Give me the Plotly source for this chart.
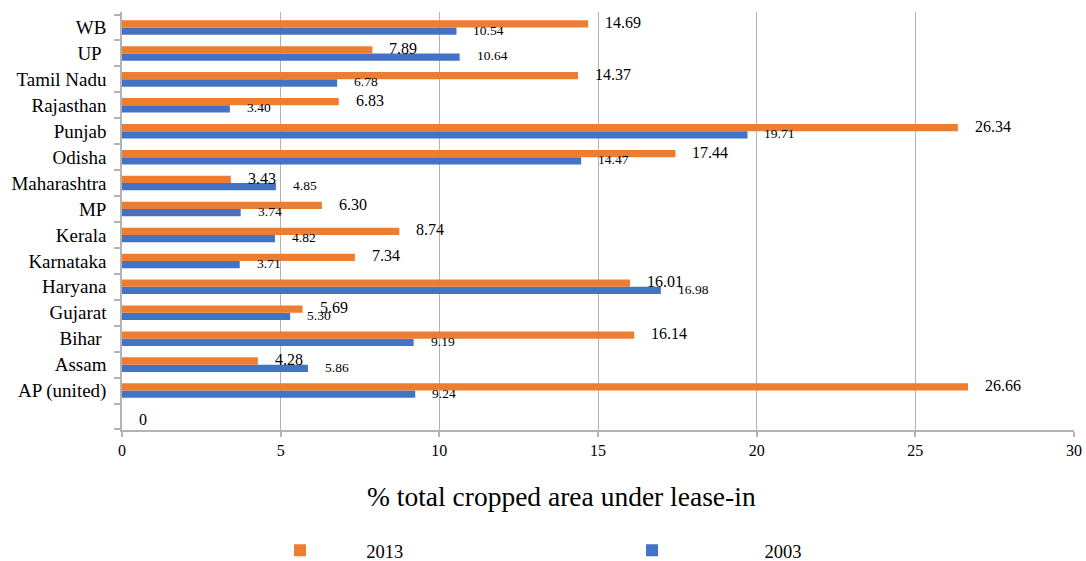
import plotly.graph_objects as go

# States, bottom row first (the first row is a blank spacer row)
states = [" ", "AP (united)", "Assam", "Bihar\u00a0", "Gujarat", "Haryana", "Karnataka",
          "Kerala", "MP", "Maharashtra", "Odisha", "Punjab", "Rajasthan",
          "Tamil Nadu", "UP\u00a0", "WB"]

# % of total cropped area under lease-in
share_2013 = [0, 26.66, 4.28, 16.14, 5.69, 16.01, 7.34, 8.74, 6.30, 3.43, 17.44,
              26.34, 6.83, 14.37, 7.89, 14.69]
share_2003 = [None, 9.24, 5.86, 9.19, 5.30, 16.98, 3.71, 4.82, 3.74, 4.85, 14.47,
              19.71, 3.40, 6.78, 10.64, 10.54]

x_ticks = [0, 5, 10, 15, 20, 25, 30]

ORANGE = "#ED7D31"
BLUE = "#4472C4"
GRID = "#B3B3B3"
FONT = "Liberation Serif, Times New Roman, serif"
NBSP = "\u00a0"

fig = go.Figure()
fig.add_trace(go.Bar(y=states, x=share_2003, orientation="h", name=NBSP * 20 + "2003",
                     marker=dict(color=BLUE, line=dict(width=0)), legendrank=2,
                     hoverinfo="x+y"))
fig.add_trace(go.Bar(y=states, x=share_2013, orientation="h", name=NBSP * 10 + "2013",
                     marker=dict(color=ORANGE, line=dict(width=0)), legendrank=1,
                     hoverinfo="x+y"))

# Value labels placed just past the end of each bar
annotations = []
for cat, v in zip(states, share_2013):
    if v is None:
        continue
    annotations.append(dict(x=v, y=cat, xref="x", yref="y", text=f"{v:.2f}" if v else "0",
                            showarrow=False, xanchor="left", yanchor="middle",
                            xshift=15, yshift=5 if v else -3,
                            font=dict(family=FONT, size=16, color="#000000")))
for cat, v in zip(states, share_2003):
    if v is None:
        continue
    annotations.append(dict(x=v, y=cat, xref="x", yref="y", text=f"{v:.2f}",
                            showarrow=False, xanchor="left", yanchor="middle",
                            xshift=15, yshift=-2.5,
                            font=dict(family=FONT, size=13.5, color="#000000")))

# Axis caption below the tick labels
annotations.append(dict(x=0.4617, y=-0.16, xref="paper", yref="paper",
                        text="% total cropped area under lease-in", showarrow=False,
                        xanchor="center", yanchor="middle",
                        font=dict(family=FONT, size=27.5, color="#000000")))

fig.update_layout(
    width=1086, height=561,
    margin=dict(l=122, r=12, t=12, b=131, autoexpand=False),
    paper_bgcolor="white", plot_bgcolor="white",
    barmode="group", bargap=0.44, bargroupgap=0,
    font=dict(family=FONT, color="#000000"),
    showlegend=True,
    legend=dict(orientation="h", x=0.166, y=-0.289, xanchor="left", yanchor="middle",
                font=dict(family=FONT, size=18.5, color="#000000"),
                entrywidth=307, entrywidthmode="pixels",
                bgcolor="rgba(0,0,0,0)"),
    annotations=annotations,
)

fig.update_xaxes(range=[0, 30], tickvals=x_ticks, showgrid=True, gridcolor=GRID, gridwidth=1,
                 showline=True, linecolor=GRID, linewidth=1.5, zeroline=False,
                 ticks="outside", ticklen=5, tickcolor=GRID, tickwidth=1.5,
                 tickfont=dict(family=FONT, size=16, color="#000000"), fixedrange=True)
fig.update_yaxes(categoryorder="array", categoryarray=states, type="category",
                 showgrid=False, showline=True, linecolor=GRID, linewidth=1.5,
                 ticks="outside", ticklen=6, tickcolor=GRID, tickwidth=1.5,
                 tickson="boundaries", ticklabelstandoff=10,
                 tickfont=dict(family=FONT, size=19, color="#000000"), fixedrange=True)

fig.write_html("out.html")
